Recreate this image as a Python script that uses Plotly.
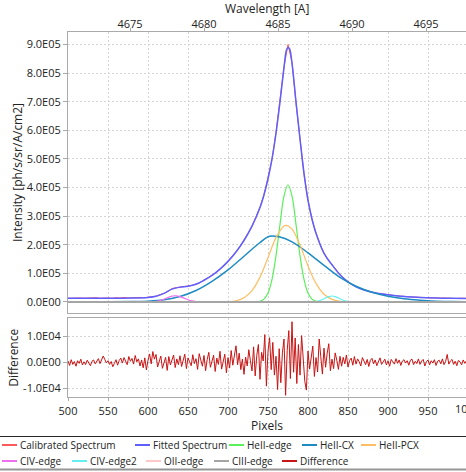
import plotly.graph_objects as go

# ---------------- data (intensity in units of 1e5, difference in units of 1e3) -------------
series_names = ["Calibrated Spectrum", "Fitted Spectrum", "HeII-edge", "HeII-CX", "HeII-PCX",
                "CIV-edge", "CIV-edge2", "OII-edge", "CIII-edge", "Difference"]
series_colors = ["rgb(255,90,90)", "rgb(95,95,255)", "rgb(90,240,90)", "rgb(30,140,195)",
                 "rgb(255,190,100)", "rgb(240,110,240)", "rgb(100,240,240)", "rgb(255,200,200)",
                 "rgb(165,165,165)", "rgb(200,20,20)"]

cal_pixels = list(range(500, 1001, 5))
cal_values = [0.13, 0.14, 0.13, 0.14, 0.13, 0.14, 0.13, 0.15, 0.13, 0.14,
              0.14, 0.13, 0.15, 0.14, 0.16, 0.14, 0.15, 0.14, 0.16, 0.15,
              0.17, 0.19, 0.20, 0.26, 0.30, 0.38, 0.47, 0.50, 0.53, 0.54,
              0.56, 0.58, 0.63, 0.68, 0.77, 0.84, 0.94, 1.03, 1.16, 1.27,
              1.43, 1.58, 1.76, 1.94, 2.17, 2.40, 2.64, 2.98, 3.32, 3.74,
              4.33, 4.98, 5.93, 6.98, 8.22, 9.00, 8.38, 6.95, 5.72, 4.48,
              3.57, 2.88, 2.42, 2.02, 1.72, 1.48, 1.31, 1.12, 0.96, 0.82,
              0.71, 0.61, 0.54, 0.47, 0.43, 0.38, 0.35, 0.31, 0.29, 0.27,
              0.25, 0.23, 0.22, 0.20, 0.20, 0.18, 0.17, 0.17, 0.16, 0.15,
              0.16, 0.14, 0.15, 0.13, 0.14, 0.13, 0.14, 0.12, 0.13, 0.12,
              0.13]

fit_pixels = [500, 550, 580, 600, 610, 620, 630, 640, 650, 660, 670, 680, 690, 700, 710, 720,
              730, 740, 745, 750, 755, 760, 765, 770, 773, 775, 777, 780, 785, 790, 795, 800,
              805, 810, 820, 830, 840, 850, 860, 870, 880, 900, 920, 940, 960, 980, 1000]
fit_values = [0.13, 0.13, 0.14, 0.16, 0.20, 0.30, 0.45, 0.52, 0.55, 0.62, 0.76, 0.93, 1.15, 1.42,
              1.75, 2.15, 2.65, 3.30, 3.75, 4.30, 5.00, 5.90, 7.00, 8.20, 8.80, 8.90, 8.85, 8.35,
              7.00, 5.70, 4.50, 3.55, 2.90, 2.40, 1.70, 1.30, 0.95, 0.70, 0.53, 0.42, 0.34, 0.25,
              0.19, 0.16, 0.14, 0.13, 0.12]

he_edge_pixels = [500, 730, 735, 740, 745, 750, 755, 760, 765, 770, 775, 780, 785, 790, 795,
                  800, 805, 810, 815, 820, 1000]
he_edge_values = [0.0, 0.0, 0.005, 0.026, 0.10, 0.31, 0.79, 1.62, 2.71, 3.70, 4.10, 3.70, 2.71,
                  1.62, 0.79, 0.31, 0.10, 0.026, 0.005, 0.0, 0.0]

he_cx_pixels = [500, 550, 580, 600, 620, 640, 660, 680, 700, 720, 740, 752, 765, 780, 800, 820,
                840, 860, 880, 900, 920, 940, 960, 980, 1000]
he_cx_values = [0.0, 0.005, 0.015, 0.03, 0.08, 0.19, 0.40, 0.72, 1.12, 1.60, 2.08, 2.30, 2.27,
                2.10, 1.72, 1.28, 0.86, 0.55, 0.34, 0.20, 0.11, 0.06, 0.03, 0.015, 0.01]

he_pcx_pixels = [500, 680, 690, 700, 710, 720, 730, 740, 750, 760, 770, 773, 780, 790, 800, 810,
                 820, 830, 840, 850, 860, 1000]
he_pcx_values = [0.0, 0.0, 0.002, 0.011, 0.044, 0.15, 0.40, 0.87, 1.55, 2.25, 2.66, 2.68, 2.55,
                 1.99, 1.26, 0.65, 0.27, 0.093, 0.026, 0.006, 0.0, 0.0]

civ_edge_pixels = [500, 595, 600, 605, 610, 615, 620, 625, 630, 635, 640, 645, 650, 655, 660,
                   665, 670, 675, 1000]
civ_edge_values = [0.0, 0.0, 0.002, 0.007, 0.02, 0.05, 0.098, 0.157, 0.206, 0.218, 0.19, 0.135,
                   0.077, 0.036, 0.014, 0.004, 0.001, 0.0, 0.0]

civ_edge2_pixels = [500, 795, 800, 805, 810, 815, 820, 825, 830, 835, 840, 845, 850, 855, 860,
                    865, 1000]
civ_edge2_values = [0.0, 0.0, 0.001, 0.004, 0.018, 0.052, 0.113, 0.18, 0.21, 0.18, 0.113, 0.052,
                    0.018, 0.004, 0.001, 0.0, 0.0]

oii_edge_pixels = [500, 1000]
oii_edge_values = [0.0, 0.0]
ciii_edge_pixels = [500, 1000]
ciii_edge_values = [0.0, 0.0]

diff_pixels = list(range(500, 1001, 2))
diff_values = [
    0.5, -1.2, 1.0, -0.8, 0.3, -1.5, 0.6, -0.4, 1.2, -1.0,
    0.2, -0.9, 0.8, -0.3, -1.3, 0.4, 0.9, -0.6, 0.2, 1.4,
    -0.5, 0.8, 2.4, 1.1, -0.2, 0.6, -0.8, 0.3, -1.7, -0.4,
    1.0, -1.1, 0.7, 1.6, -0.3, 1.8, 0.5, -0.9, 2.2, 0.4,
    1.5, -0.7, 2.6, 0.2, 1.3, -1.4, 0.9, -2.1, 1.7, -2.9,
    0.8, 3.2, -0.6, 4.1, 1.2, 3.0, -1.8, 0.5, 2.4, -2.3,
    -0.4, 1.9, -3.1, 2.2, -1.0, 0.6, 2.8, -2.0, 1.3, -0.9,
    2.5, -1.6, 0.4, 3.1, -2.4, 1.7, 0.2, -1.3, 2.9, -0.5,
    1.4, -2.7, 3.3, 0.8, -1.5, 2.6, -3.2, 1.1, 3.8, -1.9,
    0.3, 2.7, -3.5, 1.6, -0.8, 4.2, -2.6, 0.9, 3.1, -4.0,
    1.8, -2.2, 4.5, -1.1, 2.4, 6.3, -0.9, 3.5, -2.8, 1.2,
    -4.6, 2.0, -1.4, 4.8, 0.6, -3.3, 5.9, -5.2, 2.7, 6.8,
    -6.5, 3.8, 0.5, 10.6, -9.1, 4.2, 9.4, -2.8, 7.6, -4.9,
    2.3, -10.4, 5.2, -7.8, 3.6, 8.9, -12.6, 4.5, 12.1, -6.2,
    15.5, -3.8, 9.3, -8.1, 6.8, -4.9, 10.2, 2.4, -7.3, -10.6,
    4.3, -2.6, 3.1, 6.2, -5.4, 1.8, -3.7, 8.9, 2.1, -4.5,
    5.4, -1.9, 3.5, 7.1, -3.2, 1.2, -2.4, 3.6, 0.8, -2.7,
    2.3, -1.5, 1.9, -0.6, 2.8, -1.8, 0.7, 1.6, -1.1, 2.2,
    -0.7, 1.3, 0.2, -1.4, 1.8, 0.5, -0.9, 1.1, -1.6, 0.8,
    1.5, -0.6, 0.9, -1.3, 0.4, 1.7, -0.8, 0.3, 1.2, -1.0,
    0.6, -1.5, 1.1, 0.2, -0.7, 1.4, -0.4, 0.9, -1.2, 0.5,
    1.0, -0.3, 0.6, -1.1, 0.8, 1.2, -0.9, 0.4, -0.5, 1.3,
    -0.8, 0.5, 1.1, -1.4, 0.2, 0.9, -1.0, 0.6, -0.3, 1.0,
    -1.2, 0.4, 0.8, -0.6, 1.3, -0.9, 0.3, 3.0, -0.7, 0.5,
    1.1, -0.8, 0.4, -1.3, 0.7, 0.2, -1.0, 0.9, -0.4, 0.6,
    1.2]

pixel_ticks = [500, 550, 600, 650, 700, 750, 800, 850, 900, 950, 1000]
wave_ticks = [4675, 4680, 4685, 4690, 4695]
int_ticks = [0, 1, 2, 3, 4, 5, 6, 7, 8, 9]
int_tick_text = ["0.0E00", "1.0E05", "2.0E05", "3.0E05", "4.0E05", "5.0E05", "6.0E05",
                 "7.0E05", "8.0E05", "9.0E05"]
diff_ticks = [-10, 0, 10]
diff_tick_text = ["-1.0E04", "0.0E00", "1.0E04"]

# ---------------- layout geometry ----------------
W, H = 466, 472
PL = 68
FONT = "Open Sans"
TXT = "rgb(35,35,35)"
GRID = "rgb(212,212,212)"
FRAME = "rgb(170,170,170)"


def xp(px):
    return (px - PL) / (W - PL)


def yp(py):
    return 1 - py / H


X_RANGE = [500, 997.5]
W_RANGE = [4670.81, 4697.70]

fig = go.Figure()

main_series = [
    (cal_pixels, cal_values, 0, "linear", 1.0),
    (fit_pixels, fit_values, 1, "spline", 1.5),
    (he_edge_pixels, he_edge_values, 2, "spline", 1.2),
    (he_cx_pixels, he_cx_values, 3, "spline", 1.5),
    (he_pcx_pixels, he_pcx_values, 4, "spline", 1.2),
    (civ_edge_pixels, civ_edge_values, 5, "spline", 1.2),
    (civ_edge2_pixels, civ_edge2_values, 6, "spline", 1.2),
    (oii_edge_pixels, oii_edge_values, 7, "linear", 1.2),
    (ciii_edge_pixels, ciii_edge_values, 8, "linear", 2.0),
]
for xs, ys, idx, shape, w in main_series:
    fig.add_trace(go.Scatter(x=xs, y=ys, mode="lines", name=series_names[idx],
                             line=dict(color=series_colors[idx], width=w, shape=shape),
                             xaxis="x", yaxis="y", showlegend=False))

fig.add_trace(go.Scatter(x=diff_pixels, y=diff_values, mode="lines", name=series_names[9],
                         line=dict(color=series_colors[9], width=1),
                         xaxis="x2", yaxis="y2", showlegend=False))

# invisible trace so that the wavelength axis is drawn
fig.add_trace(go.Scatter(x=wave_ticks, y=[None] * len(wave_ticks), mode="lines",
                         xaxis="x3", yaxis="y", showlegend=False, hoverinfo="skip"))

main_dom = [yp(313), yp(32)]
diff_dom = [yp(397.3), yp(318.3)]

common_x = dict(range=X_RANGE, tickvals=pixel_ticks, showgrid=True, gridcolor=GRID,
                griddash="2px,2px", gridwidth=1, zeroline=False, showline=True,
                linecolor=FRAME, linewidth=1, mirror=True)

fig.update_layout(
    width=W, height=H,
    margin=dict(l=PL, r=0, t=0, b=0),
    paper_bgcolor="white", plot_bgcolor="white",
    font=dict(family=FONT, size=11, color=TXT),
    showlegend=False,
    xaxis=dict(**common_x, domain=[0, 1], anchor="y", matches="x2", showticklabels=False,
               ticks=""),
    yaxis=dict(domain=main_dom, range=[-0.385, 9.44], tickvals=int_ticks,
               ticktext=int_tick_text, ticks="outside", ticklen=4, tickcolor=FRAME,
               showgrid=True, gridcolor=GRID, griddash="2px,2px", zeroline=False,
               showline=True, linecolor=FRAME, mirror=True,
               title=dict(text="Intensity [ph/s/sr/A/cm2]", font=dict(size=12, color=TXT),
                          standoff=1)),
    xaxis2=dict(**common_x, domain=[0, 1], anchor="y2", ticks="outside", ticklen=3,
                tickcolor=FRAME,
                title=dict(text="Pixels", font=dict(size=12, color=TXT), standoff=4)),
    yaxis2=dict(domain=diff_dom, range=[-13.36, 16.8], tickvals=diff_ticks,
                ticktext=diff_tick_text, ticks="outside", ticklen=4, tickcolor=FRAME,
                showgrid=True, gridcolor=GRID, griddash="2px,2px", zeroline=False,
                showline=True, linecolor=FRAME, mirror=True,
                title=dict(text="Difference", font=dict(size=12, color=TXT), standoff=1)),
    xaxis3=dict(range=W_RANGE, tickvals=wave_ticks, overlaying="x", anchor="y", side="top",
                ticks="outside", ticklen=3, tickcolor=FRAME, showgrid=False, zeroline=False,
                showline=True, linecolor=FRAME, ticklabelstandoff=-4),
)

# top axis title, placed as in the reference
fig.add_annotation(x=0.5, xref="paper", y=yp(8.5), yref="paper", text="Wavelength [A]",
                   showarrow=False, font=dict(size=12, color=TXT), xanchor="center",
                   yanchor="middle")
# the partly visible 1000 label at the right edge
fig.add_annotation(x=xp(468), xref="paper", y=yp(408), yref="paper", text="1000",
                   showarrow=False, font=dict(size=11, color=TXT), xanchor="center",
                   yanchor="middle")

# ---------------- legend (drawn manually to match the compact Java-style legend) ----------
legend_slots = [  # (swatch start px, row y px)
    (2, 445), (135, 445), (229, 445), (302, 445), (361, 445),
    (2, 461), (72, 461), (146, 461), (214, 461), (282, 461),
]
shapes = []
for (sx, sy), name, col in zip(legend_slots, series_names, series_colors):
    shapes.append(dict(type="line", xref="paper", yref="paper", x0=xp(sx), x1=xp(sx + 15),
                       y0=yp(sy), y1=yp(sy), line=dict(color=col, width=2)))
    fig.add_annotation(x=xp(sx + 16), y=yp(sy), xref="paper", yref="paper", text=name,
                       showarrow=False, xanchor="left", yanchor="middle",
                       font=dict(size=10, color=TXT))
shapes.append(dict(type="line", xref="paper", yref="paper", x0=xp(0), x1=xp(W),
                   y0=yp(436.5), y1=yp(436.5), line=dict(color="rgb(40,40,40)", width=1)))
shapes.append(dict(type="line", xref="paper", yref="paper", x0=xp(0), x1=xp(W),
                   y0=yp(469.5), y1=yp(469.5), line=dict(color="rgb(150,150,150)", width=2)))
fig.update_layout(shapes=shapes)

fig.write_html("out.html")
